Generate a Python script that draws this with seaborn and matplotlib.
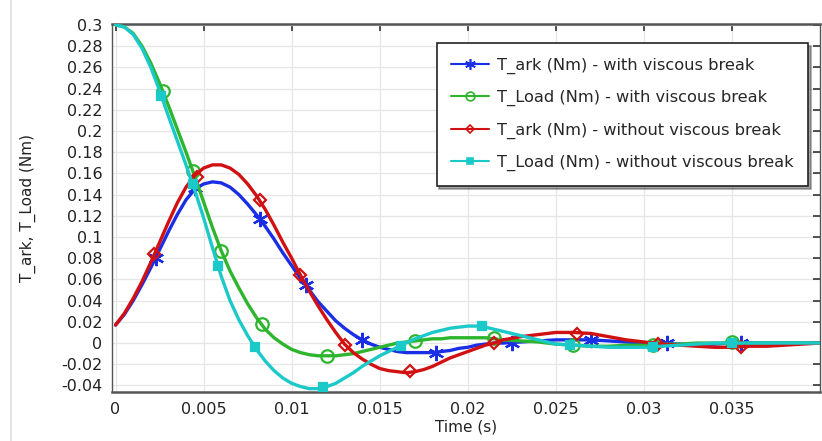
import numpy as np
import pandas as pd
import matplotlib
matplotlib.use("Agg")
import matplotlib.pyplot as plt
from matplotlib.lines import Line2D
import seaborn as sns

# ---- data ----
time = [round(i * 0.0005, 4) for i in range(45)] + [round(0.023 + i * 0.001, 3) for i in range(18)]

t_ark_with = [0.017, 0.027, 0.040, 0.055, 0.071, 0.088, 0.105, 0.121, 0.135, 0.145,
              0.150, 0.152, 0.151, 0.147, 0.140, 0.131, 0.121, 0.110, 0.098, 0.085,
              0.073, 0.061, 0.050, 0.039, 0.030, 0.021, 0.014, 0.008, 0.003, -0.001,
              -0.004, -0.006, -0.008, -0.009, -0.009, -0.009, -0.009, -0.008, -0.007, -0.005,
              -0.004, -0.002, -0.001, 0.000, 0.000,
              0.001, 0.002, 0.003, 0.003, 0.003, 0.002, 0.001, 0.000, 0.000, -0.001,
              -0.001, -0.001, 0.000, 0.000, 0.000, 0.000, 0.000, 0.000]
t_load_with = [0.300, 0.298, 0.292, 0.280, 0.264, 0.245, 0.224, 0.202, 0.180, 0.157,
               0.133, 0.109, 0.087, 0.068, 0.052, 0.037, 0.024, 0.013, 0.005, -0.001,
               -0.006, -0.009, -0.011, -0.012, -0.012, -0.012, -0.011, -0.010, -0.008, -0.006,
               -0.004, -0.002, 0.000, 0.001, 0.002, 0.003, 0.004, 0.004, 0.005, 0.005,
               0.005, 0.005, 0.005, 0.004, 0.003,
               0.002, 0.001, -0.001, -0.002, -0.003, -0.003, -0.002, -0.002, -0.001, -0.001,
               0.000, 0.000, 0.000, 0.000, 0.000, 0.000, 0.000, 0.000]
t_ark_without = [0.017, 0.028, 0.042, 0.058, 0.076, 0.095, 0.114, 0.132, 0.147, 0.158,
                 0.165, 0.168, 0.168, 0.165, 0.159, 0.150, 0.139, 0.126, 0.111, 0.095,
                 0.080, 0.064, 0.049, 0.035, 0.022, 0.010, -0.001, -0.009, -0.015, -0.020,
                 -0.024, -0.026, -0.027, -0.028, -0.027, -0.025, -0.022, -0.018, -0.014, -0.011,
                 -0.008, -0.005, -0.002, 0.000, 0.003,
                 0.006, 0.008, 0.010, 0.010, 0.009, 0.006, 0.003, 0.001, -0.001, -0.002,
                 -0.003, -0.004, -0.004, -0.003, -0.003, -0.002, -0.001, 0.000]
t_load_without = [0.300, 0.298, 0.291, 0.278, 0.260, 0.238, 0.214, 0.191, 0.168, 0.144,
                  0.118, 0.090, 0.063, 0.040, 0.022, 0.007, -0.006, -0.017, -0.026, -0.033,
                  -0.038, -0.041, -0.043, -0.043, -0.041, -0.038, -0.033, -0.028, -0.022, -0.017,
                  -0.012, -0.008, -0.004, 0.000, 0.004, 0.007, 0.010, 0.012, 0.014, 0.015,
                  0.016, 0.016, 0.015, 0.013, 0.011,
                  0.007, 0.003, -0.001, -0.002, -0.003, -0.004, -0.004, -0.004, -0.003, -0.002,
                  -0.001, 0.000, 0.000, 0.000, 0.000, 0.000, 0.000, 0.000]

# marker positions
mk_ark_with_t = [0.0023, 0.0045, 0.0082, 0.0108, 0.014, 0.0182, 0.0225, 0.027, 0.0313, 0.0355]
mk_ark_with_v = [0.080, 0.146, 0.117, 0.055, 0.003, -0.009, 0.000, 0.003, 0.000, 0.000]
mk_load_with_t = [0.0027, 0.0044, 0.006, 0.0083, 0.012, 0.017, 0.0215, 0.026, 0.0305, 0.035]
mk_load_with_v = [0.238, 0.162, 0.087, 0.018, -0.012, 0.002, 0.005, -0.002, -0.002, 0.001]
mk_ark_without_t = [0.0022, 0.0046, 0.0082, 0.0105, 0.013, 0.0167, 0.0215, 0.0262, 0.0308, 0.0355]
mk_ark_without_v = [0.084, 0.157, 0.135, 0.064, -0.002, -0.026, 0.000, 0.009, -0.001, -0.004]
mk_load_without_t = [0.0026, 0.0044, 0.0058, 0.0079, 0.0118, 0.0162, 0.0208, 0.0258, 0.0305, 0.035]
mk_load_without_v = [0.233, 0.150, 0.073, -0.004, -0.041, -0.003, 0.016, -0.002, -0.004, 0.000]

labels = ["T_ark (Nm) - with viscous break",
          "T_Load (Nm) - with viscous break",
          "T_ark (Nm) - without viscous break",
          "T_Load (Nm) - without viscous break"]
x_ticks = [0, 0.005, 0.01, 0.015, 0.02, 0.025, 0.03, 0.035]
y_ticks = [round(-0.04 + 0.02 * i, 2) for i in range(18)]

# ---- styling ----
sns.set_theme(style="white")
plt.rcParams["font.family"] = ["DejaVu Sans"]

colors = ["#1a2ee6", "#2db52d", "#d11111", "#1cc9c9"]
markers = [(6, 2, 0), "o", "D", "s"]
msizes = [11, 9, 6, 6]
mfaces = ["#1a2ee6", "none", "none", "#1cc9c9"]

fig = plt.figure(figsize=(8.22, 4.41), dpi=100)
ax = fig.add_axes([0.1363, 0.111, 0.8613, 0.835])

series = [t_ark_with, t_load_with, t_ark_without, t_load_without]
mks = [(mk_ark_with_t, mk_ark_with_v), (mk_load_with_t, mk_load_with_v),
       (mk_ark_without_t, mk_ark_without_v), (mk_load_without_t, mk_load_without_v)]

for i, (vals, (mt, mv)) in enumerate(zip(series, mks)):
    df = pd.DataFrame({"t": time, "v": vals})
    sns.lineplot(data=df, x="t", y="v", ax=ax, color=colors[i], lw=2.4, sort=False,
                 zorder=3 + i)
    dm = pd.DataFrame({"t": mt, "v": mv})
    ax.plot(dm["t"], dm["v"], ls="none", marker=markers[i], ms=msizes[i],
            mfc=mfaces[i], mec=colors[i], mew=1.6, zorder=3 + i)

ax.set_xlim(-0.0002, 0.04)
ax.set_ylim(-0.0462, 0.301)
ax.set_xticks(x_ticks)
ax.set_xticklabels([f"{x:g}" for x in x_ticks])
ax.set_yticks(y_ticks)
ax.set_yticklabels([f"{y:g}" for y in y_ticks])
ax.grid(True, color="#e6e6e6", lw=0.9)
ax.tick_params(direction="in", length=5, width=1.2, colors="#333333",
               top=True, right=True, labelsize=11.5, labelcolor="#222222", pad=7)
for s in ax.spines.values():
    s.set_color("#555555")
    s.set_linewidth(1.8)
ax.spines["left"].set_linewidth(1.0)
ax.spines["right"].set_linewidth(1.0)

ax.set_xlabel("Time (s)", fontsize=11, color="#222222", labelpad=2)
ax.set_ylabel("T_ark, T_Load (Nm)", fontsize=11, color="#222222")
ax.yaxis.set_label_coords(-0.108, 0.5)

handles = [Line2D([], [], color=colors[i], lw=1.5, marker=markers[i],
                  ms=msizes[i] * 0.7, mfc=mfaces[i], mec=colors[i], mew=1.2)
           for i in range(4)]
leg = ax.legend(handles, labels, loc="upper right", bbox_to_anchor=(0.983, 0.948),
                borderaxespad=0, fontsize=11.7, frameon=True, fancybox=False, shadow=True,
                edgecolor="#222222", framealpha=1, borderpad=0.9,
                labelspacing=1.0, handlelength=2.3, handletextpad=0.5)
leg.get_frame().set_linewidth(1.2)

fig.add_artist(Line2D([0.013, 0.013], [0, 1], color="#dddddd", lw=1.2,
                      transform=fig.transFigure))

fig.savefig("out.png", dpi=100)
